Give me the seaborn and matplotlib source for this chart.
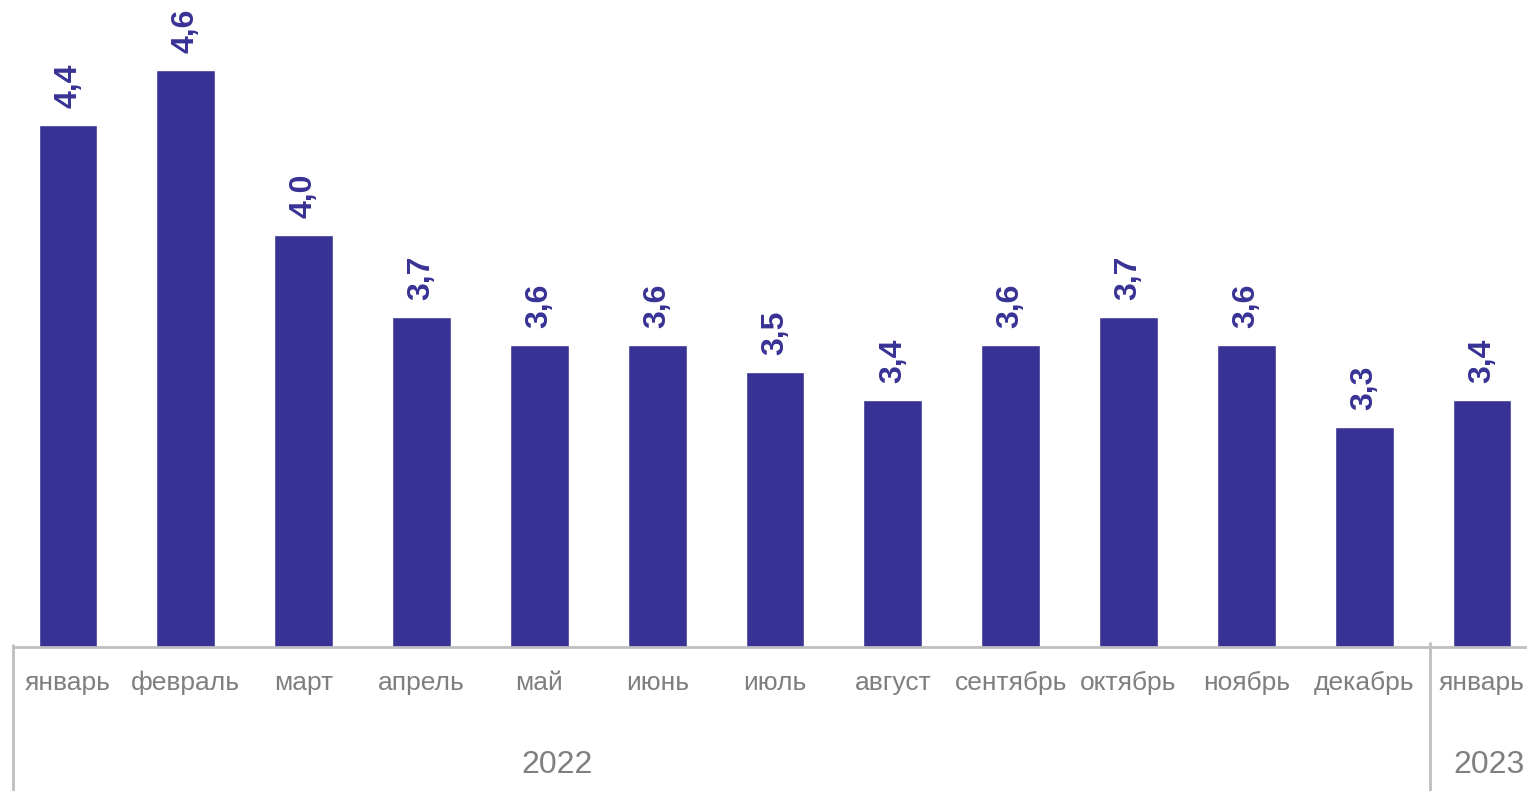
import matplotlib.pyplot as plt
import seaborn as sns
import pandas as pd

# monthly values, Jan 2022 .. Jan 2023
months = ["январь", "февраль", "март", "апрель", "май", "июнь", "июль",
          "август", "сентябрь", "октябрь", "ноябрь", "декабрь", "январь"]
keys = [f"{i:02d}" for i in range(len(months))]
values = [4.4, 4.6, 4.0, 3.7, 3.6, 3.6, 3.5, 3.4, 3.6, 3.7, 3.6, 3.3, 3.4]
years = ["2022", "2023"]

BAR = "#373294"
GRID = "#BFBFBF"
TXT = "#7F7F7F"

sns.set_theme(style="white")
plt.rcParams['font.family'] = ['Liberation Sans', 'DejaVu Sans']

df = pd.DataFrame({"key": keys, "value": values})

fig = plt.figure(figsize=(15.27, 7.91), dpi=100)
ax = fig.add_axes([13 / 1527, 144 / 791, 1514 / 1527, 647 / 791])

sns.barplot(data=df, x="key", y="value", color=BAR, width=0.5,
            saturation=1, ax=ax)

ax.set_ylim(2.5, 2.5 + 647 / 275)
ax.set_xlim(-0.467, 12.382)

for i, v in enumerate(values):
    ax.annotate(f"{v:.1f}".replace(".", ","), (i, v), xytext=(0, 12),
                textcoords="offset points", rotation=90, ha="center",
                va="bottom", fontsize=23, fontweight="bold", color=BAR)

# axes cosmetics
for s in ["top", "right", "left"]:
    ax.spines[s].set_visible(False)
ax.spines["bottom"].set_color(GRID)
ax.spines["bottom"].set_linewidth(2)
ax.set_yticks([])
ax.set_xticks([])
ax.set_xlabel("")
ax.set_ylabel("")

# category labels
xt = ax.get_xaxis_transform()
for i, m in enumerate(months):
    ax.text(i, -0.055, m, transform=xt, ha="center", va="center",
            fontsize=19, color=TXT)

# year group labels
ax.text(4.15, -0.183, years[0], transform=xt, ha="center", va="center",
        fontsize=23, color=TXT)
ax.text(12.06, -0.183, years[1], transform=xt, ha="center", va="center",
        fontsize=23, color=TXT)

# group separators
ax.axvline(-0.467, ymin=-0.23, ymax=0.003, color=GRID, lw=2, clip_on=False)
ax.axvline(11.56, ymin=-0.23, ymax=0.006, color=GRID, lw=2, clip_on=False)

fig.savefig("out.png", dpi=100)
